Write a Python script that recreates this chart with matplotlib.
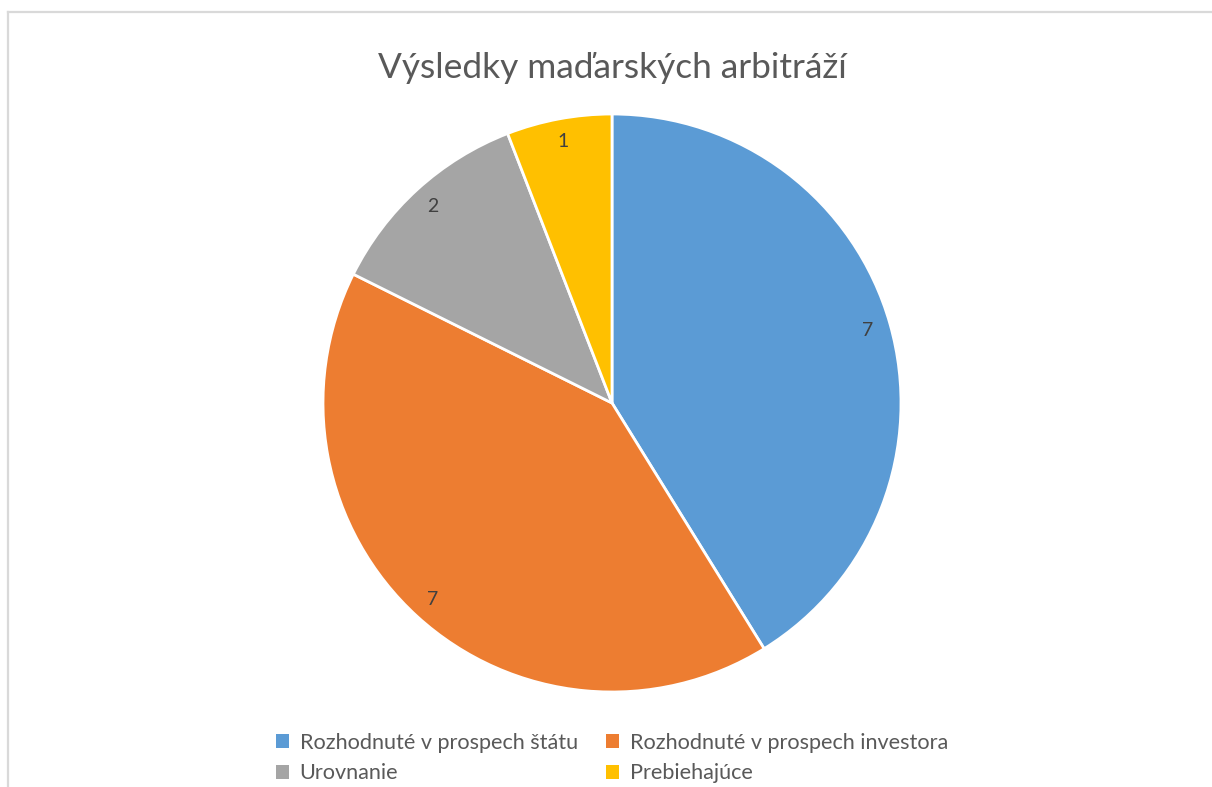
import matplotlib
matplotlib.use("Agg")
import matplotlib.pyplot as plt
from matplotlib.patches import Patch
from matplotlib.lines import Line2D

categories = ["Rozhodnuté v prospech štátu", "Rozhodnuté v prospech investora",
              "Urovnanie", "Prebiehajúce"]
values = [7, 7, 2, 1]
colors = ["#5B9BD5", "#ED7D31", "#A5A5A5", "#FFC000"]
title = "Výsledky maďarských arbitráží"

plt.rcParams['font.family'] = ['Lato', 'DejaVu Sans']
text_color = "#595959"

W, H = 1212, 787
fig = plt.figure(figsize=(W / 100, H / 100), dpi=100)
fig.patch.set_facecolor("white")

# border (left and top)
fig.add_artist(Line2D([7.5 / W, 7.5 / W], [0, 1 - 11.5 / H], transform=fig.transFigure,
                      color="#D9D9D9", lw=1.6))
fig.add_artist(Line2D([7.5 / W, 1], [1 - 11.5 / H, 1 - 11.5 / H], transform=fig.transFigure,
                      color="#D9D9D9", lw=1.6))

cx, cy, r = 612, 403, 289
ax = fig.add_axes([(cx - r) / W, (H - cy - r) / H, 2 * r / W, 2 * r / H])
wedges, texts, autotexts = ax.pie(
    values, colors=colors, startangle=90, counterclock=False,
    autopct=lambda p: f"{round(p * sum(values) / 100):d}", pctdistance=0.92,
    wedgeprops=dict(edgecolor="white", linewidth=2),
    textprops=dict(color="#404040", fontsize=14))
ax.set_xlim(-1, 1)
ax.set_ylim(-1, 1)
ax.set_aspect("equal")
ax.axis("off")

fig.text(cx / W, 1 - 68 / H, title, ha="center", va="center", fontsize=25.4, color=text_color)

handles = [Patch(facecolor=c, edgecolor="none") for c in colors]
order = [0, 2, 1, 3]  # row-wise filling for ncol=2
leg = fig.legend([handles[i] for i in order], [categories[i] for i in order],
                 ncol=2, loc="center", bbox_to_anchor=(612 / W, 1 - 758 / H),
                 frameon=False, fontsize=15.6, labelcolor=text_color,
                 handlelength=0.6, handleheight=0.6, handletextpad=0.5,
                 columnspacing=1.3, labelspacing=0.5)

fig.savefig("out.png", dpi=100)
